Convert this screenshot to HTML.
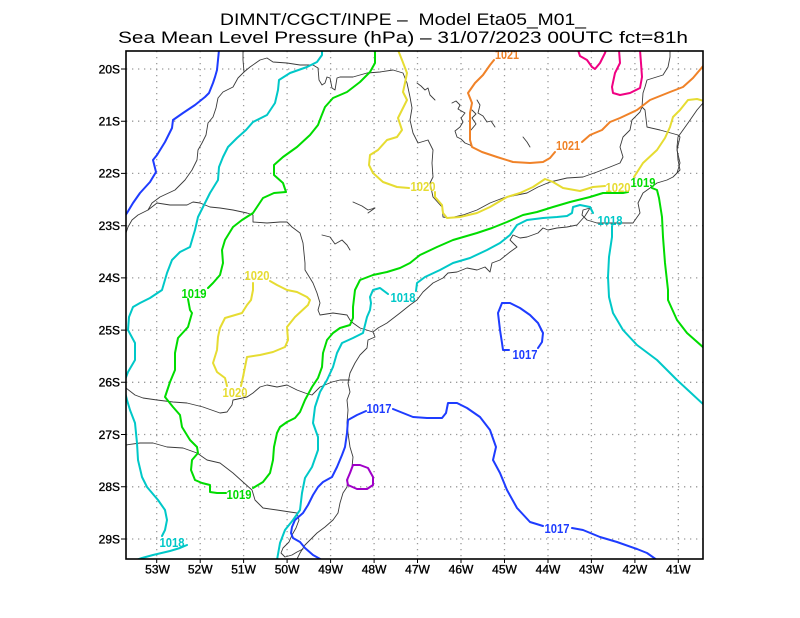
<!DOCTYPE html>
<html><head><meta charset="utf-8"><style>
html,body{margin:0;padding:0;background:#fff;}
svg{display:block;}
text{font-family:"Liberation Sans",Arial,sans-serif;}
</style></head><body>
<svg width="800" height="618" viewBox="0 0 800 618" xmlns="http://www.w3.org/2000/svg">
<rect width="800" height="618" fill="#fff"/>
<defs><clipPath id="pc"><rect x="126" y="51" width="577" height="508"/></clipPath></defs>

<!-- title -->
<text x="220" y="25" font-size="17" textLength="366" lengthAdjust="spacingAndGlyphs" xml:space="preserve" fill="#000">DIMNT/CGCT/INPE –  Model Eta05_M01_</text>
<text x="118" y="43" font-size="17" textLength="570" lengthAdjust="spacingAndGlyphs" fill="#000">Sea Mean Level Pressure (hPa) – 31/07/2023 00UTC fct=81h</text>

<!-- grid -->
<g stroke="#9a9a9a" stroke-width="1.3" stroke-dasharray="1.3,4.7" fill="none">
<path d="M156.7 51V559M200.2 51V559M243.6 51V559M287.1 51V559M330.6 51V559M374.1 51V559M417.5 51V559M461 51V559M504.5 51V559M548 51V559M591.4 51V559M634.9 51V559M678.3 51V559"/>
<path d="M126 69H703M126 121.2H703M126 173.4H703M126 225.7H703M126 277.9H703M126 330.1H703M126 382.3H703M126 434.5H703M126 486.8H703M126 539H703"/>
</g>

<g clip-path="url(#pc)" fill="none" stroke-linejoin="round" stroke-linecap="round">
<!-- coast / borders -->
<g stroke="#3a3a3a" stroke-width="0.9">
<polyline points="703,103 697,110 688,123 678,137 677,147 678,160 680,170 673,177 667,180 657,183 650,188 643,193 638,203 640,213 633,223 623,223 610,223 597,223 587,220 582,215 583,210 590,208 585,216 577,225 567,227 557,228 548,230 543,228 538,233 527,237 520,238 513,235 510,240 517,247 510,252 500,260 492,263 490,272 485,267 477,270 467,268 457,272 448,273 443,278 433,283 423,292 417,300 410,305 400,313 387,323 378,328 373,332 375,337 368,340 367,348 360,355 355,363 350,373 348,383 350,392 347,400 348,410 347,423 348,433 350,447 353,457 352,467 348,477 347,487 343,493 340,503 338,513 333,520 325,527 317,533 310,540 305,545 300,553 297,559"/>
<polyline points="243,50 243,60 244,72 238,78 233,87 223,92 218,98 216,108 213,117 208,123 206,135 202,143 198,150 197,160 192,170 185,180 175,190 160,197 152,203 148,210 138,215 132,220 128,227 126,233"/>
<polyline points="244,72 250,67 260,60 267,58 273,62 287,63 300,65 313,65 318,68 319,80 322,85 325,83 327,77 330,78 332,88 335,90 337,78 340,77 353,77 367,73 380,72 393,70 403,73 407,83 410,97 412,108 410,120 413,133 418,143 428,140 433,150 432,163 433,177 430,183 433,197 442,207 443,217 450,218 463,215 477,210 490,203 503,198 517,195 527,193 538,187 550,182 567,178 583,177 597,172 610,167 620,163 623,157 620,147 623,137 630,130 632,120 640,112 642,107 643,93 645,87 647,80 663,75 668,67 670,57 670,50"/>
<polyline points="642,107 645,110 647,127 660,130 678,135 680,137 677,150 680,163 677,173"/>
<polyline points="148,210 157,203 170,205 187,205 193,202 200,203 210,207 220,208 233,210 247,213 253,215 253,222 267,223 280,222 287,222 292,227 300,233 303,243 305,263 305,270 313,283 317,293 320,303 318,310 320,315 333,313 347,315 350,320 353,323 360,328 373,332"/>
<polyline points="126,388 135,395 143,398 157,400 173,402 187,403 203,407 220,413 227,412 232,405 233,400 247,397 253,393 260,387 267,385 277,387 287,385 297,390 305,393 312,395 320,387 332,382 340,380 350,380"/>
<polyline points="126,445 140,443 153,443 167,447 183,448 197,453 207,460 220,463 233,473 243,482 252,490 255,500 263,508 277,510 290,512 297,513 299,520 296,528 292,535 289,542 283,548 281,553 285,557 292,555 297,552 303,549"/>
<!-- lakes -->
<polyline points="452,103 456,101 460,105 458,109 465,113 461,118 463,122 460,127 455,131 457,137 461,139 465,143 470,145 474,148"/>
<polyline points="477,100 480,105 478,113 483,116 487,122 491,121 495,127"/>
<polyline points="472,110 476,114 472,118 476,124 471,130"/>
<polyline points="417,83 421,86 425,90 428,88 430,95 435,100"/>
<polyline points="523,137 527,142 530,147"/>
<polyline points="353,202 362,206 368,210 375,208 368,213"/>
<polyline points="322,235 330,237 335,244 342,240 347,245 350,250"/>
</g>

<g stroke-width="2">
<!-- blue -->
<g stroke="rgb(30,60,255)">
<polyline points="219,50 217,70 215,77 213,83 209,93 205,97 195,105 183,113 173,120 172,128 165,142 157,155 153,160 156,172 150,182 140,193 133,203 127,213 125,216"/>
<polyline points="366,411 357,415 348,420 347,433 345,447 342,455 337,467 332,477 323,482 318,487 313,495 308,505 303,513 295,520 292,527 291,533 293,538 300,542 305,548 313,555 322,560"/>
<polyline points="393,409 403,413 413,417 427,418 442,418 446,413 448,403 457,403 467,408 480,417 490,430 496,447 493,460 500,473 507,490 517,508 530,522 543,526"/>
<polyline points="572,528 583,530 600,537 617,542 637,549 647,553 657,560"/>
<polyline points="509,350 503,350 502,343 500,330 498,313 502,303 510,303 520,308 530,315 538,323 543,333 542,342 538,348"/>
</g>
<!-- cyan -->
<g stroke="rgb(0,200,200)">
<polyline points="322,50 322,55 317,62 307,67 290,73 279,80 278,90 275,103 267,115 253,122 246,130 237,138 228,147 223,157 219,167 218,180 210,193 203,207 198,217 195,230 190,247 180,252 172,260 167,273 162,290 150,298 140,303 133,307 129,317 128,330 135,343 135,360 128,372 125,380"/>
<polyline points="125,392 127,400 130,410 135,423 137,443 138,460 142,477 147,487 158,500 165,510 167,520 165,530 162,536"/>
<polyline points="187,545 180,548 170,551 153,555 142,558 136,560"/>
<polyline points="388,294 380,288 373,290 370,297 371,303 370,310 367,317 363,333 353,338 342,343 337,353 333,367 327,380 320,392 315,407 313,423 318,437 318,450 312,467 305,478 302,493 300,510 293,520 285,530 280,543 277,560"/>
<polyline points="416,291 417,283 425,277 440,270 453,263 470,258 487,250 500,243 510,235 517,225 527,220 543,218 557,217 567,216 572,213 573,207 580,205 590,207 593,213"/>
<polyline points="612,226 612,237 609,257 608,277 609,297 613,313 623,330 637,345 657,360 677,380 690,392 704,405"/>
</g>
<!-- green -->
<g stroke="rgb(0,220,0)">
<polyline points="375,50 375,63 370,72 360,82 347,92 333,98 325,107 321,117 318,125 310,135 297,147 283,157 274,165 274,175 283,183 286,192 274,193 263,198 253,213 242,220 233,227 225,240 222,250 223,263 220,275 213,283 208,288"/>
<polyline points="188,299 190,310 192,313 188,327 178,338 175,353 175,370 170,382 165,397 173,407 180,415 182,427 190,440 197,447 198,453 192,460 191,470 195,480 202,483 210,485 210,492 217,493 226,493"/>
<polyline points="253,488 263,482 270,473 273,460 274,447 277,433 280,427 287,422 295,418 300,412 305,400 312,387 318,378 322,367 323,353 327,340 333,333 340,328 350,325 353,318 353,307 355,290 360,280 373,275 387,272 400,268 410,263 420,255 437,247 453,240 477,233 492,228 507,222 523,215 537,212 553,207 570,202 590,197 603,193 623,193 628,192"/>
<polyline points="652,188 657,190 659,198 662,217 663,237 665,263 668,290 668,300 677,320 687,333 704,348"/>
</g>
<!-- yellow -->
<g stroke="rgb(230,220,50)">
<polyline points="398,50 402,60 407,73 405,83 403,92 407,100 402,110 398,118 402,130 397,137 387,140 378,150 370,155 369,165 373,173 383,182 397,187 409,188"/>
<polyline points="435,192 435,197 442,205 443,213 447,218 460,217 477,213 490,207 507,197 520,193 533,187 545,179 553,182 563,188 580,191 593,187 605,186"/>
<polyline points="634,177 643,163 657,150 665,138 670,127 673,117 680,110 688,100 697,99 704,101"/>
<polyline points="270,281 277,285 287,290 297,292 307,297 310,300 308,305 295,317 287,327 288,340 285,347 273,352 260,355 247,357 245,367 243,377 241,386"/>
<polyline points="227,386 225,378 217,372 213,363 217,350 218,337 220,328 225,318 242,313 247,305 251,300 253,290 253,283"/>
</g>
<!-- orange -->
<g stroke="rgb(240,130,40)">
<polyline points="494,60 490,65 483,75 475,83 468,93 472,103 470,113 470,125 470,140 472,147 482,152 497,157 513,162 530,163 543,162 550,158 555,152"/>
<polyline points="582,142 590,135 602,130 610,122 620,118 637,110 650,100 670,92 683,87 693,78 704,65"/>
</g>
<!-- magenta -->
<g stroke="rgb(240,0,130)">
<polyline points="578,50 580,56 587,60 592,67 595,69 600,63 605,53 606,50"/>
<polyline points="619,50 620,63 615,73 612,87 613,93 620,95 630,93 640,88 642,77 641,63 640,50"/>
</g>
<!-- purple -->
<polyline stroke="rgb(160,0,200)" points="353,465 360,465 368,468 373,477 373,485 367,489 357,489 348,485 347,480 350,473 353,465"/>
</g>

<!-- contour labels -->
<g font-size="12.5" font-weight="bold" text-anchor="middle">
<text x="507" y="59" fill="rgb(240,130,40)" textLength="24" lengthAdjust="spacingAndGlyphs">1021</text>
<text x="568" y="150" fill="rgb(240,130,40)" textLength="24" lengthAdjust="spacingAndGlyphs">1021</text>
<text x="423" y="191" fill="rgb(230,220,50)" textLength="25" lengthAdjust="spacingAndGlyphs">1020</text>
<text x="618" y="192" fill="rgb(230,220,50)" textLength="25" lengthAdjust="spacingAndGlyphs">1020</text>
<text x="643" y="187" fill="rgb(0,220,0)" textLength="25" lengthAdjust="spacingAndGlyphs">1019</text>
<text x="610" y="225" fill="rgb(0,200,200)" textLength="25" lengthAdjust="spacingAndGlyphs">1018</text>
<text x="403" y="302" fill="rgb(0,200,200)" textLength="25" lengthAdjust="spacingAndGlyphs">1018</text>
<text x="194" y="298" fill="rgb(0,220,0)" textLength="25" lengthAdjust="spacingAndGlyphs">1019</text>
<text x="257" y="280" fill="rgb(230,220,50)" textLength="25" lengthAdjust="spacingAndGlyphs">1020</text>
<text x="235" y="397" fill="rgb(230,220,50)" textLength="25" lengthAdjust="spacingAndGlyphs">1020</text>
<text x="379" y="413" fill="rgb(30,60,255)" textLength="25" lengthAdjust="spacingAndGlyphs">1017</text>
<text x="525" y="359" fill="rgb(30,60,255)" textLength="25" lengthAdjust="spacingAndGlyphs">1017</text>
<text x="557" y="533" fill="rgb(30,60,255)" textLength="25" lengthAdjust="spacingAndGlyphs">1017</text>
<text x="239" y="499" fill="rgb(0,220,0)" textLength="25" lengthAdjust="spacingAndGlyphs">1019</text>
<text x="172" y="547" fill="rgb(0,200,200)" textLength="25" lengthAdjust="spacingAndGlyphs">1018</text>
</g>
</g>

<!-- frame -->
<rect x="126" y="51" width="577" height="508" fill="none" stroke="#000" stroke-width="1.6"/>
<!-- ticks -->
<g stroke="#000" stroke-width="1">
<path d="M121 69H126M121 121.2H126M121 173.4H126M121 225.7H126M121 277.9H126M121 330.1H126M121 382.3H126M121 434.5H126M121 486.8H126M121 539H126"/>
<path d="M156.7 559V563M200.2 559V563M243.6 559V563M287.1 559V563M330.6 559V563M374.1 559V563M417.5 559V563M461 559V563M504.5 559V563M548 559V563M591.4 559V563M634.9 559V563M678.3 559V563"/>
</g>
<!-- axis labels -->
<g font-size="12" fill="#000" stroke="#000" stroke-width="0.35" text-anchor="end">
<text x="120" y="73.3">20S</text>
<text x="120" y="125.5">21S</text>
<text x="120" y="177.7">22S</text>
<text x="120" y="230">23S</text>
<text x="120" y="282.2">24S</text>
<text x="120" y="334.4">25S</text>
<text x="120" y="386.6">26S</text>
<text x="120" y="438.8">27S</text>
<text x="120" y="491.1">28S</text>
<text x="120" y="543.3">29S</text>
</g>
<g font-size="12" fill="#000" stroke="#000" stroke-width="0.35" text-anchor="middle">
<text x="157.5" y="573.5">53W</text>
<text x="200.2" y="573.5">52W</text>
<text x="243.6" y="573.5">51W</text>
<text x="287.1" y="573.5">50W</text>
<text x="330.6" y="573.5">49W</text>
<text x="374.1" y="573.5">48W</text>
<text x="417.5" y="573.5">47W</text>
<text x="461" y="573.5">46W</text>
<text x="504.5" y="573.5">45W</text>
<text x="548" y="573.5">44W</text>
<text x="591.4" y="573.5">43W</text>
<text x="634.9" y="573.5">42W</text>
<text x="678.3" y="573.5">41W</text>
</g>
</svg>
</body></html>
